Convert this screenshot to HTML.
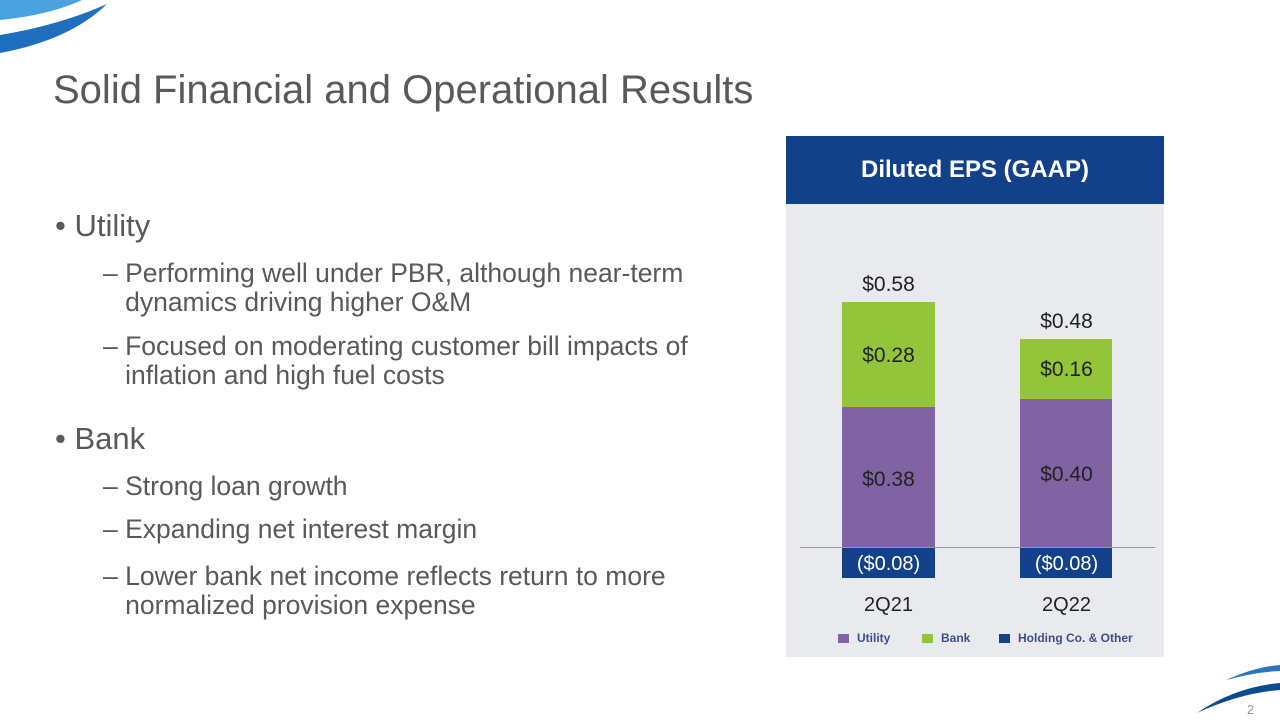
<!DOCTYPE html>
<html><head><meta charset="utf-8"><style>
body{margin:0;width:1280px;height:720px;position:relative;background:#fff;font-family:"Liberation Sans",Arial,sans-serif;overflow:hidden}
.a{position:absolute;white-space:nowrap}
.t{color:#595959}
.bl{font-size:31px;color:#595959}
.sb{font-size:26.5px;color:#595959;line-height:29px}
.v{font-size:21px;color:#222;text-align:center;width:93px}
</style></head><body>
<svg class="a" style="left:0;top:0" width="120" height="60"><path d="M0 0 L82 0 Q50 15 0 20 Z" fill="#4aa3df"/><path d="M0 35 Q60 25 107 4 Q70 40 0 53 Z" fill="#1f6fbf"/></svg>
<svg class="a" style="top:655px;left:1180px" width="100" height="65"><path d="M46 25 Q75 12 100 10 L100 16 Q75 17 46 25 Z" fill="#2a74c0"/><path d="M17 58 Q55 32 100 28 L100 35 Q60 38 17 58 Z" fill="#0e4a90"/></svg>
<div class="a t" style="left:53px;top:68px;font-size:40px">Solid Financial and Operational Results</div>
<div class="a bl" style="left:55px;top:208px">• Utility</div>
<div class="a sb" style="left:103px;top:259px">– Performing well under PBR, although near-term<br>&nbsp;&nbsp;&nbsp;dynamics driving higher O&amp;M</div>
<div class="a sb" style="left:103px;top:332px">– Focused on moderating customer bill impacts of<br>&nbsp;&nbsp;&nbsp;inflation and high fuel costs</div>
<div class="a bl" style="left:55px;top:421px">• Bank</div>
<div class="a sb" style="left:103px;top:472px">– Strong loan growth</div>
<div class="a sb" style="left:103px;top:515px">– Expanding net interest margin</div>
<div class="a sb" style="left:103px;top:562px">– Lower bank net income reflects return to more<br>&nbsp;&nbsp;&nbsp;normalized provision expense</div>

<div class="a" style="left:786px;top:136px;width:378px;height:521px;background:#e9eaed"></div>
<div class="a" style="left:786px;top:136px;width:378px;height:68px;background:#124089;color:#fff;font-weight:bold;font-size:24px;text-align:center;line-height:68px">Diluted EPS (GAAP)</div>
<div class="a" style="left:842px;top:302px;width:93px;height:105px;background:#94c43a"></div>
<div class="a" style="left:842px;top:407px;width:93px;height:141px;background:#8063a2"></div>
<div class="a" style="left:842px;top:548px;width:93px;height:30px;background:#124089"></div>
<div class="a" style="left:1020px;top:339px;width:92px;height:60px;background:#94c43a"></div>
<div class="a" style="left:1020px;top:399px;width:92px;height:149px;background:#8063a2"></div>
<div class="a" style="left:1020px;top:548px;width:92px;height:30px;background:#124089"></div>
<div class="a" style="left:800px;top:547px;width:355px;height:1px;background:#9a9a9a"></div>
<div class="a v" style="left:842px;top:273px">$0.58</div>
<div class="a v" style="left:842px;top:344px">$0.28</div>
<div class="a v" style="left:842px;top:468px">$0.38</div>
<div class="a v" style="left:842px;top:553px;color:#fff;font-size:20px">($0.08)</div>
<div class="a v" style="left:1020px;top:310px">$0.48</div>
<div class="a v" style="left:1020px;top:358px">$0.16</div>
<div class="a v" style="left:1020px;top:463px">$0.40</div>
<div class="a v" style="left:1020px;top:553px;color:#fff;font-size:20px">($0.08)</div>
<div class="a v" style="left:842px;top:594px;font-size:20px">2Q21</div>
<div class="a v" style="left:1020px;top:594px;font-size:20px">2Q22</div>
<div class="a" style="left:838px;top:634px;width:11px;height:9px;background:#8063a2"></div>
<div class="a" style="left:857px;top:631px;font-size:12px;font-weight:bold;color:#3c4d8c">Utility</div>
<div class="a" style="left:922px;top:634px;width:11px;height:9px;background:#94c43a"></div>
<div class="a" style="left:941px;top:631px;font-size:12px;font-weight:bold;color:#3c4d8c">Bank</div>
<div class="a" style="left:999px;top:634px;width:11px;height:9px;background:#124089"></div>
<div class="a" style="left:1018px;top:631px;font-size:12px;font-weight:bold;color:#3c4d8c">Holding Co. &amp; Other</div>
<div class="a" style="left:1247px;top:702px;font-size:13px;color:#999">2</div>
</body></html>
